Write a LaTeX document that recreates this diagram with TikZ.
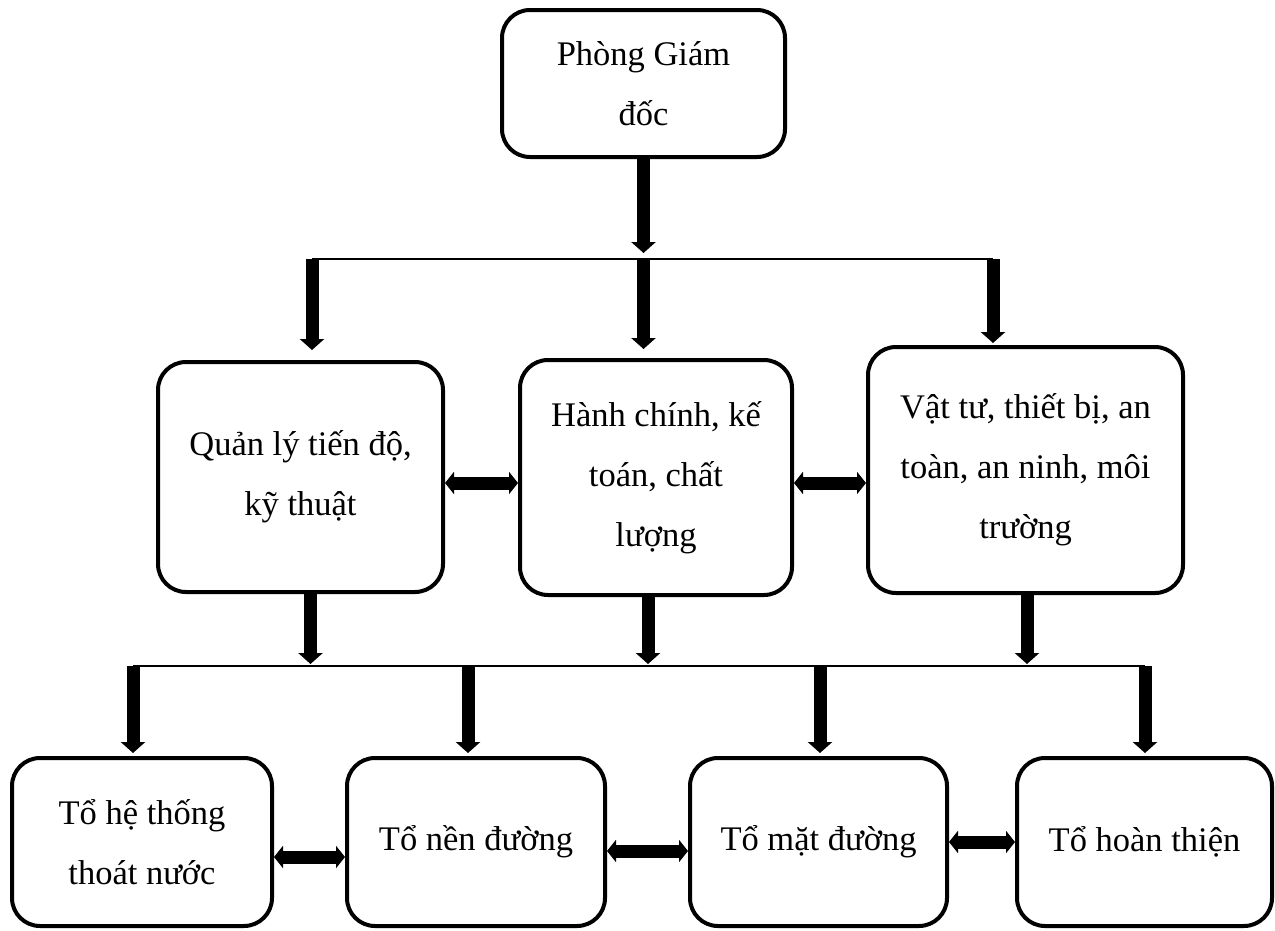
\documentclass[tikz,border=0pt]{standalone}
\usepackage{fontspec}
\setmainfont{Liberation Serif}
\usetikzlibrary{arrows.meta}
\begin{document}
\begin{tikzpicture}[x=1pt,y=-1pt,
  box/.style={draw, line width=4pt, rounded corners=28pt, inner sep=0pt, align=center, font=\fontsize{34.5}{60}\selectfont},
  varr/.style={line width=13pt, -{Triangle[width=24pt,length=11pt]}},
  darr/.style={line width=13pt, {Triangle[width=22pt,length=9pt]}-{Triangle[width=22pt,length=9pt]}},
  bus/.style={line width=2pt}]
\useasboundingbox (0,0) rectangle (1275,930);
% boxes
\node[box, minimum width=283pt, minimum height=147pt] (gd) at (643.5,83.5) {Phòng Giám\\đốc};
\node[box, minimum width=285pt, minimum height=230pt] (ql) at (300.5,477) {Quản lý tiến độ,\\kỹ thuật};
\node[box, minimum width=272pt, minimum height=235pt] (hc) at (656,477.5) {Hành chính, kế\\toán, chất\\lượng};
\node[box, minimum width=315pt, minimum height=246pt] (vt) at (1025.5,470) {Vật tư, thiết bị, an\\toàn, an ninh, môi\\trường};
\node[box, minimum width=260pt, minimum height=168pt] (b1) at (142,842) {Tổ hệ thống\\thoát nước};
\node[box, minimum width=258pt, minimum height=168pt] (b2) at (476,842) {Tổ nền đường};
\node[box, minimum width=257pt, minimum height=168pt] (b3) at (818.5,842) {Tổ mặt đường};
\node[box, minimum width=255pt, minimum height=168pt] (b4) at (1144.5,842) {Tổ hoàn thiện};
% bus coordinates
\coordinate (uL) at (312,259);
\coordinate (uM) at (643.5,259);
\coordinate (uR) at (993,259);
\coordinate (lL) at (133,666);
\coordinate (l2) at (468,666);
\coordinate (l3) at (820,666);
\coordinate (lR) at (1145,666);
\draw[bus] (uL) -- (uR);
\draw[bus] (lL) -- (lR);
% top to bus
\draw[varr, shorten >=6pt] (gd.south) -- (uM);
% bus to middle row
\draw[varr, shorten >=10pt] (uL) -- (uL |- ql.north);
\draw[varr, shorten >=9pt] (uM) -- (uM |- hc.north);
\draw[varr, shorten >=2pt] (uR) -- (uR |- vt.north);
% middle row to lower bus
\draw[varr, shorten >=2pt] ([xshift=10pt]ql.south) -- ([xshift=10pt]ql.south |- lL);
\draw[varr, shorten >=2pt] ([xshift=-8pt]hc.south) -- ([xshift=-8pt]hc.south |- lL);
\draw[varr, shorten >=2pt] ([xshift=1.5pt]vt.south) -- ([xshift=1.5pt]vt.south |- lL);
% lower bus to bottom row
\draw[varr, shorten >=3pt] (lL) -- (lL |- b1.north);
\draw[varr, shorten >=3pt] (l2) -- (l2 |- b2.north);
\draw[varr, shorten >=3pt] (l3) -- (l3 |- b3.north);
\draw[varr, shorten >=3pt] (lR) -- (lR |- b4.north);
% horizontal double arrows
\draw[darr] (ql.east |- 0,483) -- (hc.west |- 0,483);
\draw[darr] (hc.east |- 0,483) -- (vt.west |- 0,483);
\draw[darr] (b1.east |- 0,857) -- (b2.west |- 0,857);
\draw[darr] (b2.east |- 0,851) -- (b3.west |- 0,851);
\draw[darr] (b3.east |- 0,842) -- (b4.west |- 0,842);
\end{tikzpicture}
\end{document}
